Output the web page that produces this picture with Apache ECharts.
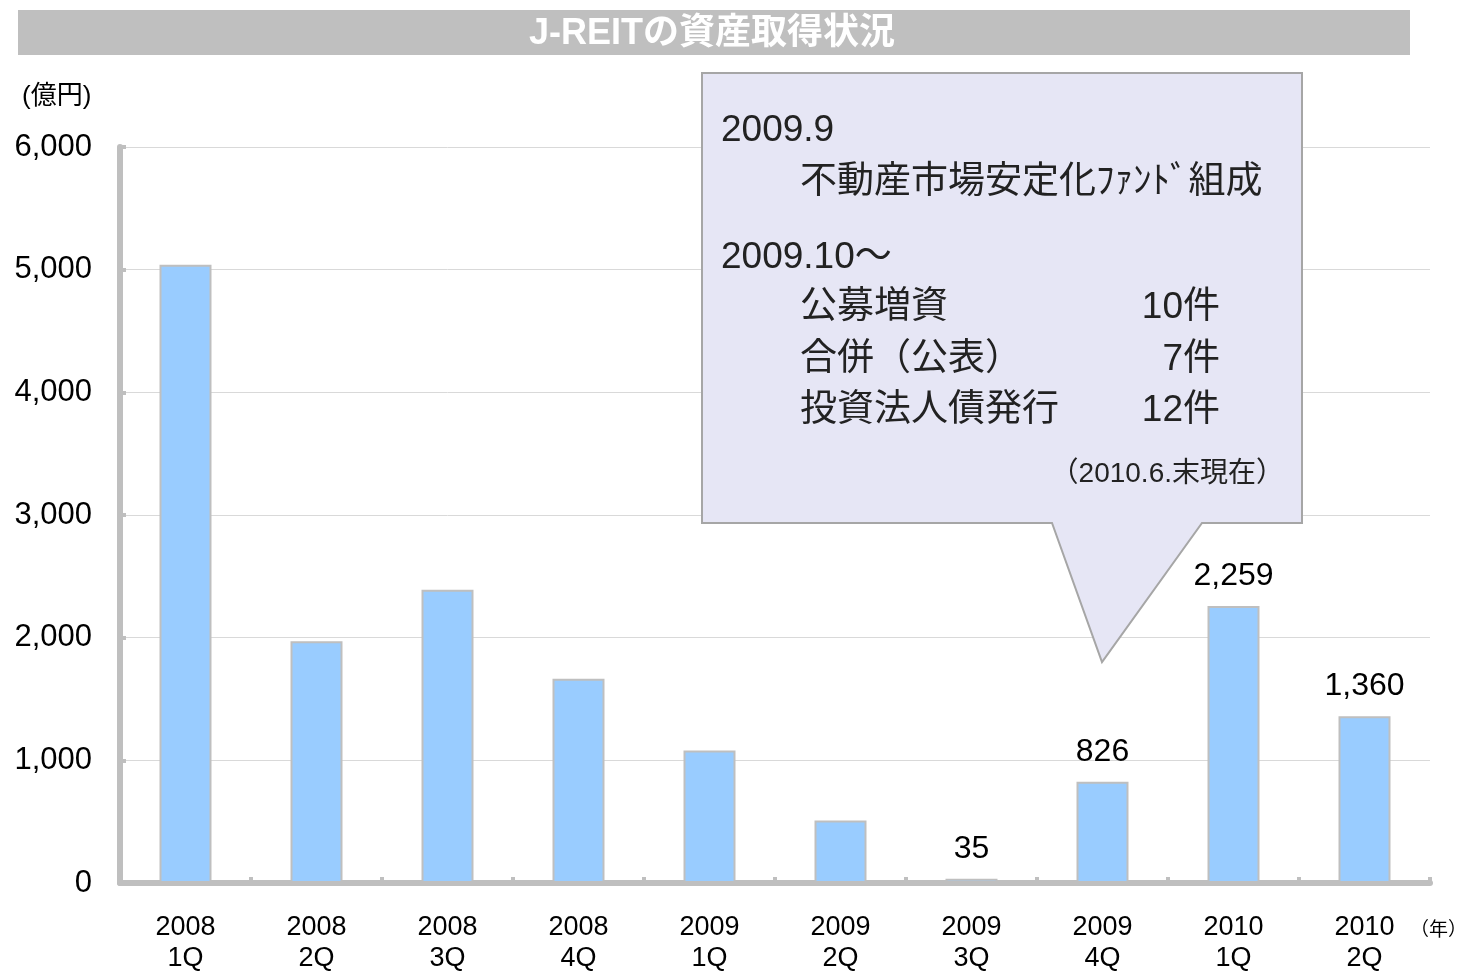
<!DOCTYPE html>
<html><head><meta charset="utf-8">
<script src="https://cdn.jsdelivr.net/npm/echarts@6/dist/echarts.min.js"></script>
<style>html,body{margin:0;padding:0;background:#fff;overflow:hidden}#c{width:1460px;height:974px}</style>
</head><body><div id="c"></div>
<script>
const categories = ['2008\n1Q','2008\n2Q','2008\n3Q','2008\n4Q','2009\n1Q','2009\n2Q','2009\n3Q','2009\n4Q','2010\n1Q','2010\n2Q'];
const values = [5040, 1970, 2390, 1665, 1080, 510, 35, 826, 2259, 1360];
const labeledIndex = [6, 7, 8, 9];
const yTicks = [0, 1000, 2000, 3000, 4000, 5000, 6000];
const titleText = 'J-REITの資産取得状況';
const unitText = '(億円)';
const yearText = '（年）';

const FONT = '"Liberation Sans", Arial, "Noto Sans CJK JP", sans-serif';
const chart = echarts.init(document.getElementById('c'));
const data = values.map((v, i) => ({
  value: v,
  label: { show: labeledIndex.includes(i) }
}));

function t(x, y, text, size, align) {
  return { type: 'text', z: 101, x: x, y: y,
    style: { text: text, fill: '#222', font: size + 'px ' + FONT, textAlign: align || 'left', textVerticalAlign: 'middle' } };
}

chart.setOption({
  animation: false,
  textStyle: { fontFamily: FONT },
  grid: { left: 120, width: 1310, top: 147, height: 742, containLabel: false },
  xAxis: {
    type: 'category',
    data: categories,
    axisLine: { lineStyle: { color: '#BFBFBF', width: 6 } },
    axisTick: { show: true, inside: true, length: 6, lineStyle: { color: '#BFBFBF', width: 4 } },
    axisLabel: { color: '#000', fontSize: 27, lineHeight: 31, margin: 29, fontFamily: FONT },
    splitLine: { show: false }
  },
  yAxis: {
    type: 'value',
    min: yTicks[0], max: yTicks[yTicks.length - 1], interval: 1000,
    axisLine: { show: true, lineStyle: { color: '#BFBFBF', width: 6 } },
    axisTick: { show: true, inside: true, length: 6, lineStyle: { color: '#BFBFBF', width: 4 } },
    axisLabel: {
      color: '#000', fontSize: 31, margin: 28, fontFamily: FONT,
      formatter: v => v.toLocaleString('en-US')
    },
    splitLine: { lineStyle: { color: '#D9D9D9', width: 1 } }
  },
  series: [{
    type: 'bar',
    data: data,
    barWidth: 52,
    itemStyle: { color: '#99CCFF', borderColor: '#BFBFBF', borderWidth: 2 },
    label: {
      position: 'top', distance: 14, color: '#000', fontSize: 32, fontFamily: FONT,
      formatter: p => p.value.toLocaleString('en-US')
    }
  }],
  graphic: [
    { type: 'rect', shape: { x: 18, y: 10, width: 1392, height: 45 }, style: { fill: '#BFBFBF' } },
    { type: 'text', x: 712, y: 34, style: { text: titleText, fill: '#fff', font: 'bold 36px ' + FONT, textAlign: 'center', textVerticalAlign: 'middle' } },
    { type: 'text', x: 22, y: 97, style: { text: unitText, fill: '#000', font: '26px ' + FONT, textVerticalAlign: 'middle' } },
    { type: 'text', x: 1467, y: 931, style: { text: yearText, fill: '#000', font: '19px ' + FONT, textAlign: 'right', textVerticalAlign: 'middle' } },
    {
      type: 'polygon', z: 100,
      shape: { points: [[702,73],[1302,73],[1302,523],[1202,523],[1102,662],[1052,523],[702,523]] },
      style: { fill: '#E6E6F5', stroke: '#A6A6A6', lineWidth: 2 }
    },
    t(721, 131, '2009.9', 37),
    t(800, 183, '不動産市場安定化ﾌｧﾝﾄﾞ組成', 37),
    t(721, 258, '2009.10～', 37),
    t(800, 308, '公募増資', 37),
    t(1220, 308, '10件', 37, 'right'),
    t(800, 360, '合併（公表）', 37),
    t(1220, 360, '7件', 37, 'right'),
    t(800, 411, '投資法人債発行', 37),
    t(1220, 411, '12件', 37, 'right'),
    t(1284, 474, '（2010.6.末現在）', 28, 'right')
  ]
});
</script></body></html>
